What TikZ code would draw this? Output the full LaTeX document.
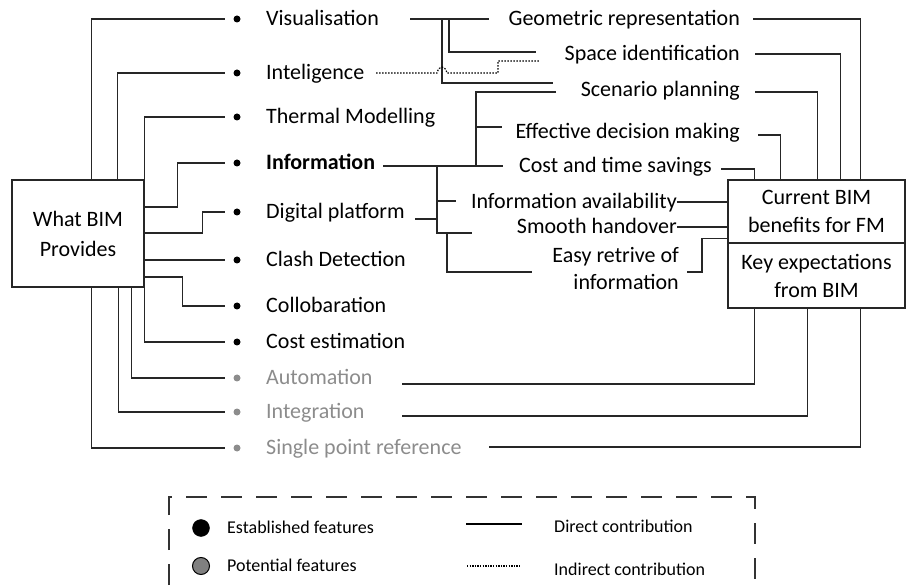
\documentclass[tikz,border=0pt]{standalone}
\usepackage{fontspec}
\setmainfont{Carlito}
\definecolor{potgray}{RGB}{140,140,140}
\definecolor{legray}{RGB}{128,128,128}
\tikzset{
  lbl/.style={font=\fontsize{22}{27}\selectfont, inner sep=0pt, text height=16pt, text depth=3pt},
  mlbl/.style={font=\fontsize{22}{27}\selectfont, inner sep=0pt, align=center},
  leglbl/.style={font=\fontsize{18}{22}\selectfont, inner sep=0pt, text height=13pt, text depth=3pt, anchor=west},
  bul/.style={circle, fill=black, inner sep=0pt, minimum size=7pt},
  pbul/.style={bul, fill=potgray},
  conn/.style={line width=1.3pt, draw=black!85},
  ind/.style={line width=1.2pt, draw=black, dash pattern=on 1.5pt off 1.5pt},
  bigbox/.style={draw=black!85, line width=1.3pt, inner sep=0pt, align=center, font=\fontsize{22}{28}\selectfont},
  legdash/.style={line width=1.4pt, draw=black!80, dash pattern=on 21pt off 14pt}
}
\begin{document}
\begin{tikzpicture}[x=1pt,y=-1pt]
\useasboundingbox (0,0) rectangle (906,588);

% main boxes
\node[bigbox, minimum width=132pt, minimum height=107pt] (wbp) at (78,233.5) {What BIM\\[2pt]Provides};
\node[bigbox, minimum width=177pt, minimum height=63pt] (cbf) at (816.5,211.5) {Current BIM\\benefits for FM};
\node[bigbox, minimum width=177pt, minimum height=65pt] (kex) at (816.5,275.5) {Key expectations\\from BIM};

% left labels and bullets
\foreach \n/\y/\t in {lv/19/Visualisation, li/73/Inteligence, lt/117/Thermal Modelling, lin/163/\textbf{Information}, ld/212/Digital platform, lc/260/Clash Detection, lco/306/Collobaration, lce/342/Cost estimation}{
  \node[lbl, anchor=west] (\n) at (266,\y) {\t};
  \node[bul] (b\n) at (237,\y) {};
}
\foreach \n/\y/\t in {la/378/Automation, lig/412/Integration, ls/448/Single point reference}{
  \node[lbl, anchor=west, text=potgray] (\n) at (266,\y) {\t};
  \node[pbul] (b\n) at (237,\y) {};
}

% middle labels
\node[lbl, anchor=east] (mg) at (740,19) {Geometric representation};
\node[lbl, anchor=east] (ms) at (740,54) {Space identification};
\node[lbl, anchor=east] (msp) at (740,90) {Scenario planning};
\node[lbl, anchor=east] (me) at (740,132) {Effective decision making};
\node[lbl, anchor=east] (mc) at (712,166) {Cost and time savings};
\node[lbl, anchor=east] (ma) at (677,202) {Information availability};
\node[lbl, anchor=east] (mh) at (677,227) {Smooth handover};
\node[mlbl, anchor=east, align=right] (mer) at (679,268.5) {Easy retrive of\\information};

% connectors: What BIM Provides -> features
\draw[conn] ([xshift=80pt]wbp.north west) |- ([xshift=-12pt]blv.center);
\draw[conn] ([xshift=106pt]wbp.north west) |- ([xshift=-12pt]bli.center);
\draw[conn] (wbp.north east) |- ([xshift=-12pt]blt.center);
\draw[conn] ([yshift=26.5pt]wbp.east) -- ++(33,0) |- ([xshift=-12pt]blin.center);
\draw[conn] ([yshift=0.5pt]wbp.east) -- ++(58,0) |- ([xshift=-12pt]bld.center);
\draw[conn] ([yshift=-26.5pt]wbp.east) -- ([xshift=-12pt]blc.center);
\draw[conn] ([yshift=-43.5pt]wbp.east) -- ++(38,0) |- ([xshift=-12pt]blco.center);
\draw[conn] (wbp.south east) |- ([xshift=-12pt]blce.center);
\draw[conn] ([xshift=-13pt]wbp.south east) |- ([xshift=-12pt]bla.center);
\draw[conn] ([xshift=-26pt]wbp.south east) |- ([xshift=-12pt]blig.center);
\draw[conn] ([xshift=80pt]wbp.south west) |- ([xshift=-12pt]bls.center);

% Visualisation tree
\draw[conn] (410,19) -- (489,19);
\draw[conn] (442,19) |- (553,83);
\draw[conn] (449,19) |- (536,52);
% Inteligence (indirect)
\draw[ind] (376,73) -- (437,73) .. controls (439,65) and (445,65) .. (447,73) -- (498,73) |- (540,61);
% Information tree
\draw[conn] (383,166) -- (503,166);
\draw[conn] (556,92) -- (476,92) -- (476,166);
\draw[conn] (476,127) -- (502,127);
\draw[conn] (437,166) -- (437,233) -- (472,233);
\draw[conn] (437,201) -- (456,201);
\draw[conn] (415,219) -- (437,219);
\draw[conn] (447,233) |- (532,272);

% middle -> Current BIM benefits
\draw[conn] (753,19) -| ([xshift=133pt]cbf.north west);
\draw[conn] (755,54) -| ([xshift=113pt]cbf.north west);
\draw[conn] (755,92) -| ([xshift=90pt]cbf.north west);
\draw[conn] (758,135) -| ([xshift=53pt]cbf.north west);
\draw[conn] (721,169) -| ([xshift=27pt]cbf.north west);
\draw[conn] (ma.east) -- (ma.east -| cbf.west);
\draw[conn] (mh.east) -- (mh.east -| cbf.west);
\draw[conn] (687,272) -- (702,272) |- ([yshift=5pt]cbf.south west);

% Key expectations -> potential features
\draw[conn] ([xshift=27pt]kex.south west) |- (402,384);
\draw[conn] ([xshift=80pt]kex.south west) |- (402,416);
\draw[conn] ([xshift=133pt]kex.south west) |- (489,447);

% legend
\draw[legdash] (169,620) -- (169,497) -- (755,497) -- (755,620);
\node[circle, fill=black, draw=black, inner sep=0pt, minimum size=17pt] (leb) at (201,528) {};
\node[leglbl] (let) at (227,528) {Established features};
\node[circle, fill=legray, draw=black, line width=1pt, inner sep=0pt, minimum size=17pt] (lpb) at (201,566) {};
\node[leglbl] (lpt) at (227,566) {Potential features};
\coordinate (ld1) at (466,524);
\coordinate (ld2) at (522,524);
\draw[line width=1.2pt] (ld1) -- (ld2);
\node[leglbl] (ldt) at (554,527) {Direct contribution};
\coordinate (li1) at (467,566);
\coordinate (li2) at (520,566);
\draw[line width=1.1pt, draw=black, dash pattern=on 1.3pt off 1.3pt] (li1) -- (li2);
\node[leglbl] (lit) at (554,570) {Indirect contribution};
\end{tikzpicture}
\end{document}
